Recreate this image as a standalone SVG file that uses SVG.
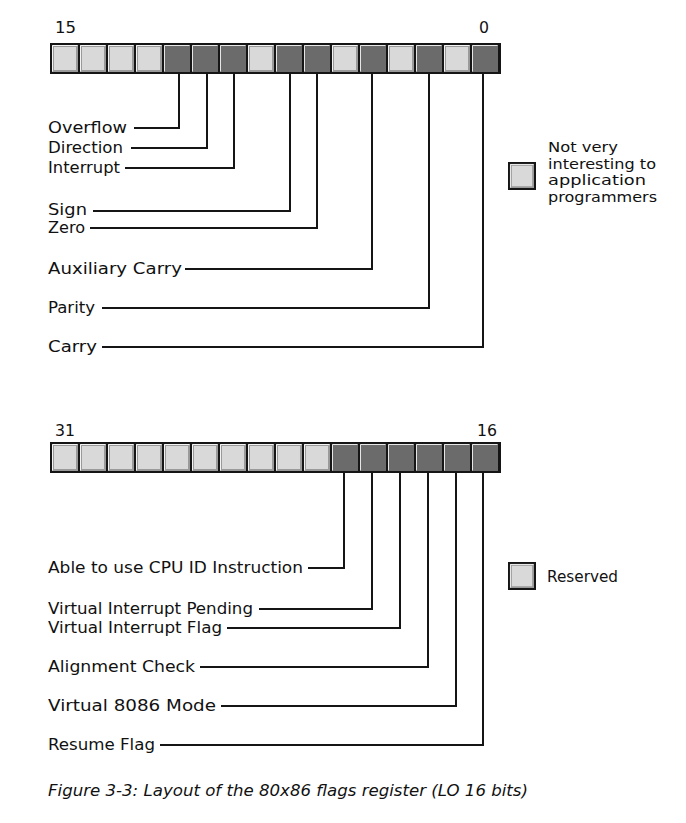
<svg xmlns="http://www.w3.org/2000/svg" xmlns:xlink="http://www.w3.org/1999/xlink" width="686" height="823" viewBox="0 0 686 823">
<style>
  .lbl { font-family: "DejaVu Sans", "Liberation Sans", sans-serif; font-size: 16px; fill: #111; }
  .num { font-family: "DejaVu Sans", "Liberation Sans", sans-serif; font-size: 16px; fill: #111; }
  .leg { font-family: "DejaVu Sans", "Liberation Sans", sans-serif; font-size: 13.5px; fill: #111; }
  .cap { font-family: "DejaVu Sans", "Liberation Sans", sans-serif; font-size: 16.5px; font-style: italic; fill: #111; }
  .frame { fill: #151515; }
  .conn { fill: none; stroke: #151515; stroke-width: 2; }
</style>
<defs>
  <g id="lightCell">
    <rect x="0" y="0" width="26" height="27" fill="#9a9a9a"/>
    <rect x="2" y="2" width="22" height="23" fill="#d9d9d9"/>
    <path d="M0.5 26.5 V0.5 H25.5" fill="none" stroke="#f4f4f4" stroke-width="1"/>
  </g>
  <g id="darkCell">
    <rect x="0" y="0" width="26" height="27" fill="#6b6b6b"/>
    <path d="M0.5 26.5 V0.5 H25.5" fill="none" stroke="#e6e6e6" stroke-width="1"/>
  </g>
</defs>

<g id="register-low">
  <text class="num" x="55" y="33" textLength="21" lengthAdjust="spacingAndGlyphs">15</text>
  <text class="num" x="479" y="33" textLength="10" lengthAdjust="spacingAndGlyphs">0</text>
  <rect class="frame" x="50" y="43" width="451" height="31"/>
  <use xlink:href="#lightCell" x="52" y="45"/>
  <use xlink:href="#lightCell" x="80" y="45"/>
  <use xlink:href="#lightCell" x="108" y="45"/>
  <use xlink:href="#lightCell" x="136" y="45"/>
  <use xlink:href="#darkCell" x="164" y="45"/>
  <use xlink:href="#darkCell" x="192" y="45"/>
  <use xlink:href="#darkCell" x="220" y="45"/>
  <use xlink:href="#lightCell" x="248" y="45"/>
  <use xlink:href="#darkCell" x="276" y="45"/>
  <use xlink:href="#darkCell" x="304" y="45"/>
  <use xlink:href="#lightCell" x="332" y="45"/>
  <use xlink:href="#darkCell" x="360" y="45"/>
  <use xlink:href="#lightCell" x="388" y="45"/>
  <use xlink:href="#darkCell" x="416" y="45"/>
  <use xlink:href="#lightCell" x="444" y="45"/>
  <use xlink:href="#darkCell" x="472" y="45"/>
</g>

<g id="register-high">
  <text class="num" x="55" y="436" textLength="20" lengthAdjust="spacingAndGlyphs">31</text>
  <text class="num" x="477" y="436" textLength="20" lengthAdjust="spacingAndGlyphs">16</text>
  <rect class="frame" x="50" y="442" width="451" height="31"/>
  <use xlink:href="#lightCell" x="52" y="444"/>
  <use xlink:href="#lightCell" x="80" y="444"/>
  <use xlink:href="#lightCell" x="108" y="444"/>
  <use xlink:href="#lightCell" x="136" y="444"/>
  <use xlink:href="#lightCell" x="164" y="444"/>
  <use xlink:href="#lightCell" x="192" y="444"/>
  <use xlink:href="#lightCell" x="220" y="444"/>
  <use xlink:href="#lightCell" x="248" y="444"/>
  <use xlink:href="#lightCell" x="276" y="444"/>
  <use xlink:href="#lightCell" x="304" y="444"/>
  <use xlink:href="#darkCell" x="332" y="444"/>
  <use xlink:href="#darkCell" x="360" y="444"/>
  <use xlink:href="#darkCell" x="388" y="444"/>
  <use xlink:href="#darkCell" x="416" y="444"/>
  <use xlink:href="#darkCell" x="444" y="444"/>
  <use xlink:href="#darkCell" x="472" y="444"/>
</g>

<g id="connectors">
  <path class="conn" d="M134 128 H179 V74"/>
  <path class="conn" d="M131 148 H207 V74"/>
  <path class="conn" d="M125 168 H234 V74"/>
  <path class="conn" d="M93 211 H290 V74"/>
  <path class="conn" d="M90 228 H317 V74"/>
  <path class="conn" d="M185 269 H372 V74"/>
  <path class="conn" d="M102 308 H429 V74"/>
  <path class="conn" d="M102 347 H483 V74"/>

  <path class="conn" d="M308 568 H344 V473"/>
  <path class="conn" d="M259 609 H372 V473"/>
  <path class="conn" d="M227 628 H400 V473"/>
  <path class="conn" d="M200 667 H428 V473"/>
  <path class="conn" d="M221 706 H456 V473"/>
  <path class="conn" d="M160 745 H483 V473"/>
</g>

<g id="flag-overflow"><text class="lbl" x="48" y="133" textLength="79" lengthAdjust="spacingAndGlyphs">Overflow</text></g>
<g id="flag-direction"><text class="lbl" x="48" y="153" textLength="75" lengthAdjust="spacingAndGlyphs">Direction</text></g>
<g id="flag-interrupt"><text class="lbl" x="48" y="173" textLength="72" lengthAdjust="spacingAndGlyphs">Interrupt</text></g>
<g id="flag-sign"><text class="lbl" x="48" y="215" textLength="39" lengthAdjust="spacingAndGlyphs">Sign</text></g>
<g id="flag-zero"><text class="lbl" x="48" y="233" textLength="37" lengthAdjust="spacingAndGlyphs">Zero</text></g>
<g id="flag-aux"><text class="lbl" x="48" y="274" textLength="134" lengthAdjust="spacingAndGlyphs">Auxiliary Carry</text></g>
<g id="flag-parity"><text class="lbl" x="48" y="313" textLength="47" lengthAdjust="spacingAndGlyphs">Parity</text></g>
<g id="flag-carry"><text class="lbl" x="48" y="352" textLength="49" lengthAdjust="spacingAndGlyphs">Carry</text></g>

<g id="flag-cpuid"><text class="lbl" x="48" y="573" textLength="255" lengthAdjust="spacingAndGlyphs">Able to use CPU ID Instruction</text></g>
<g id="flag-vip"><text class="lbl" x="48" y="614" textLength="205" lengthAdjust="spacingAndGlyphs">Virtual Interrupt Pending</text></g>
<g id="flag-vif"><text class="lbl" x="48" y="633" textLength="174" lengthAdjust="spacingAndGlyphs">Virtual Interrupt Flag</text></g>
<g id="flag-ac"><text class="lbl" x="48" y="672" textLength="147" lengthAdjust="spacingAndGlyphs">Alignment Check</text></g>
<g id="flag-vm"><text class="lbl" x="48" y="711" textLength="168" lengthAdjust="spacingAndGlyphs">Virtual 8086 Mode</text></g>
<g id="flag-rf"><text class="lbl" x="48" y="750" textLength="107" lengthAdjust="spacingAndGlyphs">Resume Flag</text></g>

<g id="legend-low">
  <rect class="frame" x="508" y="162" width="28" height="28"/>
  <g transform="translate(510,164) scale(0.923,0.889)"><use xlink:href="#lightCell"/></g>
  <text class="leg" x="548" y="152" textLength="70" lengthAdjust="spacingAndGlyphs">Not very</text>
  <text class="leg" x="548" y="168.5" textLength="108" lengthAdjust="spacingAndGlyphs">interesting to</text>
  <text class="leg" x="548" y="185" textLength="98" lengthAdjust="spacingAndGlyphs">application</text>
  <text class="leg" x="548" y="201.5" textLength="109" lengthAdjust="spacingAndGlyphs">programmers</text>
</g>

<g id="legend-high">
  <rect class="frame" x="508" y="562" width="28" height="28"/>
  <g transform="translate(510,564) scale(0.923,0.889)"><use xlink:href="#lightCell"/></g>
  <text class="lbl" x="547" y="582" textLength="71" lengthAdjust="spacingAndGlyphs">Reserved</text>
</g>

<g id="caption">
  <text class="cap" x="48" y="796" textLength="480" lengthAdjust="spacingAndGlyphs">Figure 3-3: Layout of the 80x86 flags register (LO 16 bits)</text>
</g>
</svg>
